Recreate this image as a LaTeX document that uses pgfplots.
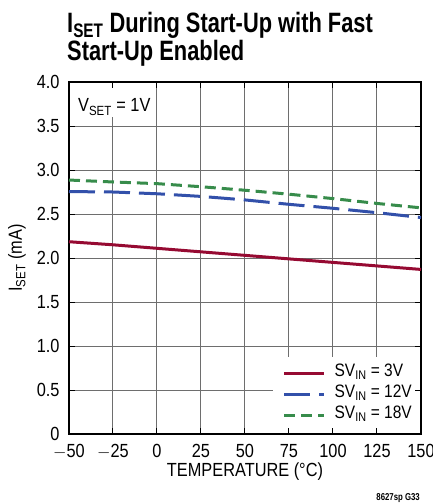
\documentclass[border=0pt]{standalone}
\usepackage{fontspec}
\setmainfont{Liberation Sans}[FakeStretch=0.86]
\newfontfamily\titlefont{Liberation Sans}[FakeStretch=0.78]
\usepackage{pgfplots}
\pgfplotsset{compat=1.18}

\definecolor{cred}{RGB}{150,10,50}
\definecolor{cblue}{RGB}{50,80,170}
\definecolor{cgreen}{RGB}{55,140,75}
\definecolor{cgrid}{RGB}{110,110,110}

\begin{document}
\begin{tikzpicture}
\useasboundingbox (-69pt,-70pt) rectangle (364pt,434pt);
\begin{axis}[
    at={(0,0)}, anchor=south west,
    width=352pt, height=352pt,
    scale only axis,
    xmin=-50, xmax=150,
    ymin=0, ymax=4,
    xtick={-50,-25,0,25,50,75,100,125,150},
    xticklabels={$-$50,$-$25,0,25,50,75,100,125,150},
    ytick={0,0.5,1,1.5,2,2.5,3,3.5,4},
    yticklabels={0,0.5,1.0,1.5,2.0,2.5,3.0,3.5,4.0},
    grid=major,
    major grid style={cgrid, line width=1pt},
    axis line style={black, line width=2pt},
    tick style={black, line width=1pt},
    major tick length=6pt,
    tick align=inside,
    ticklabel style={font=\fontsize{19}{20}\selectfont},
    xticklabel style={yshift=-7pt},
    yticklabel style={xshift=-6pt},
    /pgf/number format/assume math mode=true,
    xlabel={TEMPERATURE (°C)},
    ylabel={I\textsubscript{SET} (mA)},
    every axis x label/.style={at={([yshift=-42.7pt]rel axis cs:0.5,0)}, anchor=base,
        font=\fontsize{19}{20}\selectfont},
    every axis y label/.style={at={([xshift=-52pt]rel axis cs:0,0.5)}, rotate=90, anchor=center,
        font=\fontsize{19}{20}\selectfont},
    legend style={at={([xshift=-7pt,yshift=71.3pt]rel axis cs:1,0)}, anchor=north east,
        draw=none, fill=none, font=\fontsize{18}{19}\selectfont,
        inner sep=0pt, row sep=0pt,
        nodes={text height=12pt, text depth=5pt, inner sep=2pt},
        /tikz/every odd column/.append style={column sep=7pt}},
    legend image code/.code={\draw[#1] (0pt,0pt) -- (40pt,0pt);},
    legend cell align=left,
    clip=false,
]
\addplot[cred, line width=3pt] coordinates {
    (-50,2.185) (-25,2.15) (0,2.11) (25,2.07) (50,2.03) (75,1.99) (100,1.95) (125,1.91) (150,1.87)
};
\addlegendentry{SV\textsubscript{IN} = 3V}
\addplot[cblue, line width=3pt, dash pattern=on 26pt off 9pt] coordinates {
    (-50,2.755) (-25,2.75) (0,2.73) (25,2.70) (50,2.66) (75,2.61) (100,2.565) (125,2.515) (150,2.46)
};
\addlegendentry{SV\textsubscript{IN} = 12V}
\addplot[cgreen, line width=3pt, dash pattern=on 11pt off 6pt] coordinates {
    (-50,2.886) (-25,2.864) (0,2.845) (25,2.81) (50,2.77) (75,2.725) (100,2.675) (125,2.62) (150,2.57)
};
\addlegendentry{SV\textsubscript{IN} = 18V}
% white boxes behind the annotation and the legend
\fill[white] ([xshift=1pt,yshift=-1pt]rel axis cs:0,1) rectangle (axis cs:-0.6,3.6);
\fill[white] (axis cs:66,0.875) rectangle ([xshift=-1pt,yshift=1pt]rel axis cs:1,0);
% ticks that stay visible over the white boxes
\draw[black, line width=1pt] (axis cs:-25,4) -- ([yshift=-6pt]axis cs:-25,4);
\draw[black, line width=1pt] (axis cs:75,0) -- ([yshift=6pt]axis cs:75,0);
\draw[black, line width=1pt] (axis cs:100,0) -- ([yshift=6pt]axis cs:100,0);
\draw[black, line width=1pt] (axis cs:125,0) -- ([yshift=6pt]axis cs:125,0);
\draw[black, line width=1pt] (axis cs:150,0.5) -- ([xshift=-6pt]axis cs:150,0.5);
\node[anchor=base west, inner sep=0pt, font=\fontsize{19}{20}\selectfont]
    at ([xshift=9pt,yshift=-29.7pt]rel axis cs:0,1) {V\textsubscript{SET} = 1V};
\node[anchor=base west, inner sep=0pt, font=\titlefont\bfseries\fontsize{28}{28}\selectfont]
    at ([xshift=-2pt,yshift=50pt]rel axis cs:0,1) {I\textsubscript{SET} During Start-Up with Fast};
\node[anchor=base west, inner sep=0pt, font=\titlefont\bfseries\fontsize{28}{28}\selectfont]
    at ([xshift=-2pt,yshift=22pt]rel axis cs:0,1) {Start-Up Enabled};
\node[anchor=base east, inner sep=0pt, font=\titlefont\bfseries\fontsize{10}{10}\selectfont]
    at ([xshift=-1pt,yshift=-66pt]rel axis cs:1,0) {8627sp G33};
\end{axis}
\end{tikzpicture}
\end{document}
